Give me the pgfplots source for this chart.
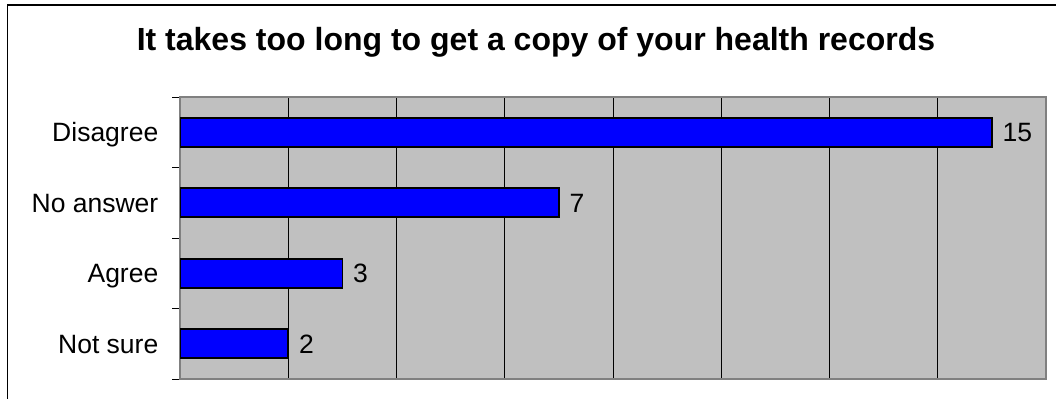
\documentclass[border=0pt]{standalone}
\usepackage{pgfplots}
\pgfplotsset{compat=1.18}
\usepackage{fontspec}
\setmainfont{Liberation Sans}
\definecolor{plotbg}{HTML}{C0C0C0}
\definecolor{edge}{HTML}{808080}
\definecolor{barblue}{HTML}{0000FF}
\begin{document}
\begin{tikzpicture}[x=1bp,y=1bp]
\useasboundingbox (0,0) rectangle (1056,398);
\draw[black, line width=1.2bp] (7.5,-20) -- (7.5,393) -- (1100,393);
\node[anchor=base, inner sep=0pt, font=\fontsize{32bp}{38bp}\selectfont\bfseries] at (536,347.3) {It takes too long to get a copy of your health records};
\begin{axis}[
  at={(180bp,19bp)}, anchor=south west,
  scale only axis, width=866bp, height=282bp,
  xbar, bar width=29bp,
  xmin=0, xmax=16, ymin=-0.5, ymax=3.5,
  xtick={2,4,...,14}, xticklabels={},
  xmajorgrids, major grid style={black, line width=0.8bp},
  major tick length=0pt,
  ytick={0,1,2,3}, yticklabels={Not sure,Agree,No answer,Disagree},
  minor ytick={-0.5,0.5,1.5,2.5,3.5}, minor tick length=8bp,
  tick align=outside, tick pos=left,
  minor tick style={black, line width=0.8bp},
  axis background/.style={fill=plotbg},
  axis line style={edge, line width=1.5bp},
  /pgf/number format/assume math mode=true,
  yticklabel style={font=\fontsize{26.5bp}{32bp}\selectfont, inner sep=0pt, anchor=east, text height=19bp, text depth=0pt, xshift=-21.5bp},
  nodes near coords,
  nodes near coords style={font=\fontsize{26.5bp}{32bp}\selectfont, inner sep=0pt, anchor=west, text height=19bp, text depth=0pt, xshift=10bp, black},
]
\addplot[fill=barblue, draw=black, line width=1.6bp] coordinates {(2,0) (3,1) (7,2) (15,3)};
\end{axis}
\end{tikzpicture}
\end{document}
